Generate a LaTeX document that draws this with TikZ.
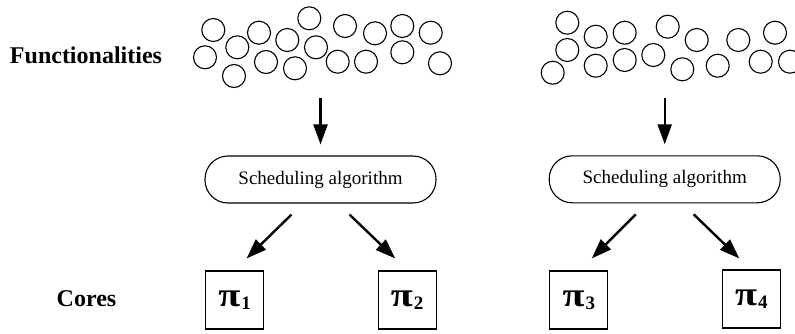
\documentclass[tikz,border=0pt]{standalone}
\usepackage{fontspec}
\setmainfont{Liberation Serif}
\usetikzlibrary{arrows.meta}

\tikzset{
  func/.style={line width=1.1pt},
  sched/.style={draw, line width=1.1pt, rounded corners=23pt, minimum width=231pt,
    minimum height=47pt, font=\fontsize{19}{22}\selectfont},
  core/.style={draw, line width=1.1pt, minimum size=58pt, inner sep=0pt},
  flow/.style={line width=2.4pt, -{Triangle[length=20pt,width=14pt]}},
  rowlabel/.style={font=\bfseries\fontsize{24}{28}\selectfont, anchor=base}
}
\newcommand{\corelabel}[1]{\scalebox{1.18}[1]{\fontsize{34}{34}\selectfont\bfseries π}%
  \kern1pt\raisebox{-3pt}{\fontsize{19}{19}\selectfont\bfseries #1}}

\begin{document}
\begin{tikzpicture}[x=1pt,y=-1pt]
  \useasboundingbox (0,0) rectangle (795,333);

  % row labels
  \node[rowlabel] (funlabel) at (86,63) {Functionalities};
  \node[rowlabel] (corelabel) at (86.5,306) {Cores};

  % functionalities, first group
  \foreach \x/\y in {213.3/30, 205/57.3, 237.3/47.3, 234/76, 259/32.7, 266/62,
      287.3/40, 295/68.3, 309.3/18.3, 316/47.3, 337.7/61.7, 345/26, 366/61.7,
      375/33.3, 402.3/26, 402.3/52.3, 430.7/32.7, 440/63.3}
    \draw[func] (\x,\y) circle (11.5);

  % functionalities, second group
  \foreach \x/\y in {567.3/22.7, 567.3/50, 552.7/72.7, 595.7/36.7, 595.7/65.7,
      624.7/32.7, 624.7/60, 653.3/55, 667.7/26.7, 682.3/69.3, 696.7/40,
      717.7/65.7, 738.3/40, 760.7/61.7, 775/32.7, 790/61.7}
    \draw[func] (\x,\y) circle (11.5);

  \coordinate (funA) at (320.5,98);
  \coordinate (funB) at (664.7,98);

  % schedulers
  \node[sched] (schedA) at (320.5,179.5) {Scheduling algorithm};
  \node[sched] (schedB) at (664.7,179.3) {Scheduling algorithm};

  % cores
  \node[core] (p1) at (234.6,300) {\corelabel{1}};
  \node[core] (p2) at (407.2,300) {\corelabel{2}};
  \node[core] (p3) at (578.8,300) {\corelabel{3}};
  \node[core] (p4) at (751.3,299) {\corelabel{4}};

  % arrows
  \draw[flow] (funA) -- ([yshift=11pt]schedA.north);
  \draw[flow] (funB) -- ([yshift=11pt]schedB.north);
  \draw[flow] ([xshift=-29pt,yshift=-11pt]schedA.south) -- ([xshift=12pt,yshift=12pt]p1.north);
  \draw[flow] ([xshift=29pt,yshift=-11pt]schedA.south) -- ([xshift=-12pt,yshift=12pt]p2.north);
  \draw[flow] ([xshift=-29pt,yshift=-11pt]schedB.south) -- ([xshift=13pt,yshift=12pt]p3.north);
  \draw[flow] ([xshift=29pt,yshift=-11pt]schedB.south) -- ([xshift=-12pt,yshift=11pt]p4.north);
\end{tikzpicture}
\end{document}
